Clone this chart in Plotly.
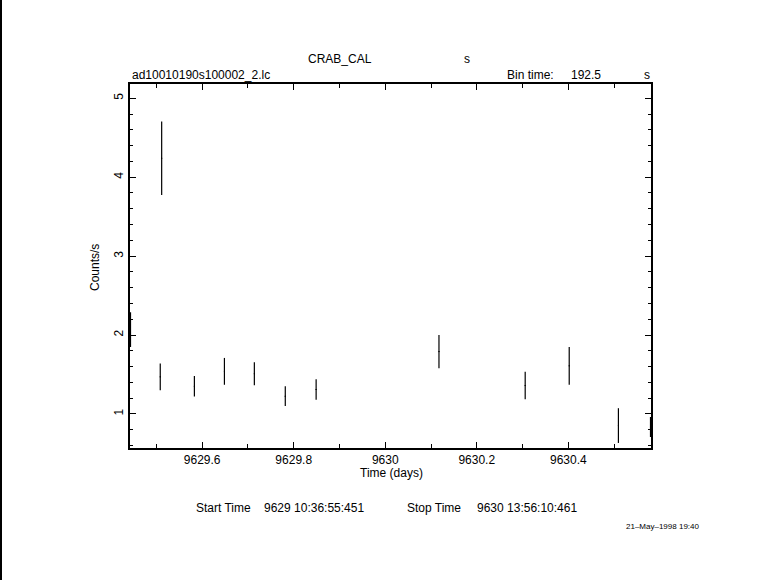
import plotly.graph_objects as go

# ---- data ----
time_days = [9629.4434, 9629.5084, 9629.5115, 9629.5830, 9629.6486, 9629.7140,
             9629.7816, 9629.8490, 9630.1174, 9630.3058, 9630.4020, 9630.5095, 9630.5796]
rate = [2.07, 1.47, 4.24, 1.35, 1.54, 1.51, 1.225, 1.31, 1.79, 1.36, 1.61, 0.853, 0.835]
rate_err = [0.22, 0.17, 0.465, 0.13, 0.17, 0.145, 0.125, 0.13, 0.21, 0.175, 0.24, 0.22, 0.127]
half_bin_days = [0.00111] * len(time_days)

x_tickvals = [9629.6, 9629.8, 9630.0, 9630.2, 9630.4]
x_ticktext = ["9629.6", "9629.8", "9630", "9630.2", "9630.4"]
y_tickvals = [1, 2, 3, 4, 5]
y_ticktext = ["1", "2", "3", "4", "5"]

x_range = [9629.4423, 9630.5807]
y_range = [0.569, 5.18]

W, H = 781, 580
L, R, T, B = 130, 130, 84, 132
PW, PH = W - L - R, H - T - B

def px(x):
    return (x - L) / PW

def py(y):
    return (H - B - y) / PH

FONT = "Liberation Sans"

fig = go.Figure()
fig.add_trace(go.Scatter(
    x=time_days, y=rate, mode="markers",
    marker=dict(size=1, color="black"),
    error_y=dict(type="data", array=rate_err, symmetric=True, width=0,
                 thickness=1.2, color="black"),
    error_x=dict(type="data", array=half_bin_days, symmetric=True, width=0,
                 thickness=1, color="black"),
    showlegend=False, hoverinfo="x+y",
))

axis_common = dict(
    showline=True, linecolor="black", linewidth=2, mirror="ticks",
    ticks="inside", ticklen=6, tickwidth=1, tickcolor="black",
    showgrid=False, zeroline=False,
    tickfont=dict(family=FONT, size=12, color="black"),
)

fig.update_xaxes(range=x_range, tickmode="array", tickvals=x_tickvals,
                 ticktext=x_ticktext,
                 minor=dict(ticks="inside", ticklen=4, dtick=0.1, tick0=9629.5,
                            tickcolor="black", tickwidth=1, showgrid=False),
                 **axis_common)
fig.update_yaxes(range=y_range, tickmode="array", tickvals=y_tickvals,
                 ticktext=y_ticktext, tickangle=-90,
                 minor=dict(ticks="inside", ticklen=3, dtick=0.2, tick0=0,
                            tickcolor="black", tickwidth=1, showgrid=False),
                 **axis_common)

def ann(text, x, y, size=12, xanchor="center", textangle=0):
    fig.add_annotation(text=text, xref="paper", yref="paper", x=px(x), y=py(y),
                       xanchor=xanchor, yanchor="middle", showarrow=False,
                       textangle=textangle,
                       font=dict(family=FONT, size=size, color="black"))

ann("CRAB_CAL", 340, 59)
ann("s", 467, 59)
ann("ad10010190s100002_2.lc", 130, 75, xanchor="left")
ann("Bin time:", 505, 75, xanchor="left")
ann("192.5", 569, 75, xanchor="left")
ann("s", 647, 75)
ann("Counts/s", 95, 268, textangle=-90)
ann("Time (days)", 391, 473)
ann("Start Time", 194, 508, xanchor="left")
ann("9629 10:36:55:451", 262, 508, xanchor="left")
ann("Stop Time", 405, 508, xanchor="left")
ann("9630 13:56:10:461", 475, 508, xanchor="left")
ann("21\u2013May\u20131998 19:40", 663, 526, size=8)

fig.add_shape(type="line", xref="paper", yref="paper",
              x0=px(1), x1=px(1), y0=py(0), y1=py(H),
              line=dict(color="black", width=2))

fig.update_layout(
    width=W, height=H, autosize=False,
    margin=dict(l=L, r=R, t=T, b=B),
    paper_bgcolor="white", plot_bgcolor="white",
    showlegend=False,
)

fig.write_html("out.html", config={"displayModeBar": False},
               post_script="document.body.style.margin='0';document.body.style.overflow='hidden';")
